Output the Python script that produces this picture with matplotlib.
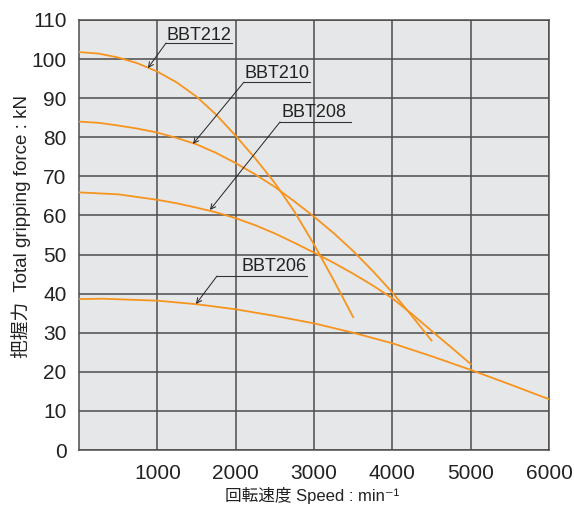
import matplotlib
matplotlib.use("Agg")
import matplotlib.pyplot as plt

plt.rcParams['font.family'] = ['Liberation Sans', 'Noto Sans CJK JP', 'DejaVu Sans']

# speed (min-1) vs total gripping force (kN)
bbt212_speed = [0, 250, 500, 750, 1000, 1250, 1500, 1750, 2000, 2250, 2500, 2750, 3000, 3250, 3500]
bbt212_force = [101.8, 101.4, 100.4, 98.9, 96.8, 94.0, 90.4, 85.8, 80.4, 74.6, 68.3, 61.0, 52.6, 43.5, 34.0]

bbt210_speed = [0, 250, 500, 750, 1000, 1250, 1500, 1750, 2000, 2250, 2500, 2750, 3000, 3250, 3500,
                3750, 4000, 4250, 4500]
bbt210_force = [84.0, 83.7, 83.0, 82.2, 81.2, 79.8, 78.2, 76.0, 73.4, 70.5, 67.3, 63.6, 59.7, 55.5, 50.9,
                45.8, 40.3, 34.3, 28.0]

bbt208_speed = [0, 500, 1000, 1250, 1500, 1750, 2000, 2250, 2500, 2750, 3000, 3250, 3500, 3750, 4000,
                4250, 4500, 4750, 5000]
bbt208_force = [65.9, 65.4, 64.0, 63.1, 62.0, 60.8, 59.3, 57.5, 55.4, 53.0, 50.5, 47.9, 45.1, 42.1, 38.8,
                34.8, 30.5, 26.3, 22.0]

bbt206_speed = [0, 300, 1000, 1500, 2000, 2500, 3000, 3500, 4000, 4500, 5000, 5500, 6000]
bbt206_force = [38.6, 38.7, 38.2, 37.3, 36.0, 34.3, 32.4, 30.0, 27.3, 24.0, 20.5, 16.8, 13.0]

labels = ["BBT212", "BBT210", "BBT208", "BBT206"]
# (text left x, text baseline y, arrow tip x, arrow tip y, underline start x, underline end x, underline y)
label_pos = [
    (1120, 105.0, 880, 97.7, 1111, 1953, 104.1),
    (2110, 95.2, 1455, 78.3, 2106, 2949, 94.1),
    (2580, 85.1, 1672, 61.4, 2566, 3472, 83.9),
    (2070, 45.7, 1494, 37.35, 1762, 2911, 44.5),
]

orange = "#f7941d"
grid_c = "#4d4d4d"

fig = plt.figure(figsize=(5.74, 5.07), dpi=100)
ax = fig.add_axes([0.1376, 0.1124, 0.8188, 0.8482])
ax.set_facecolor("#e6e7e8")

for sp, fc in [(bbt212_speed, bbt212_force), (bbt210_speed, bbt210_force),
               (bbt208_speed, bbt208_force), (bbt206_speed, bbt206_force)]:
    ax.plot(sp, fc, color=orange, linewidth=1.3, zorder=3)

ax.set_xlim(0, 6000)
ax.set_ylim(0, 110)
ax.set_xticks(range(1000, 6001, 1000))
ax.set_yticks(range(0, 111, 10))
ax.tick_params(length=0, labelsize=15, colors="#222222")
ax.tick_params(axis='x', pad=10)
ax.tick_params(axis='y', pad=9)
ax.grid(True, color=grid_c, linewidth=1.1, zorder=1)
ax.set_axisbelow(True)
for s in ax.spines.values():
    s.set_color(grid_c)
    s.set_linewidth(1.1)

for name, (tx, ty, ax_, ay, u0, u1, uy) in zip(labels, label_pos):
    ax.text(tx, ty, name, fontsize=13, ha='left', va='baseline', color="#222222", zorder=5)
    ax.plot([u0, u1], [uy, uy], color="#333333", linewidth=0.8, zorder=4)
    ax.annotate("", xy=(ax_, ay), xytext=(u0, uy),
                arrowprops=dict(arrowstyle="->", color="#222222", lw=0.7,
                                shrinkA=0, shrinkB=0, mutation_scale=9),
                zorder=4)

ax.set_xlabel("回転速度 Speed : min⁻¹", fontsize=12, color="#222222")
ax.xaxis.set_label_coords(0.4957, -0.1047)
ax.xaxis.label.set_va('center')
ax.set_ylabel("把握力  Total gripping force : kN", fontsize=13.5, color="#222222")
ax.yaxis.set_label_coords(-0.1234, 0.5186)
ax.yaxis.label.set_va('center')

fig.savefig("out.png", dpi=100)
